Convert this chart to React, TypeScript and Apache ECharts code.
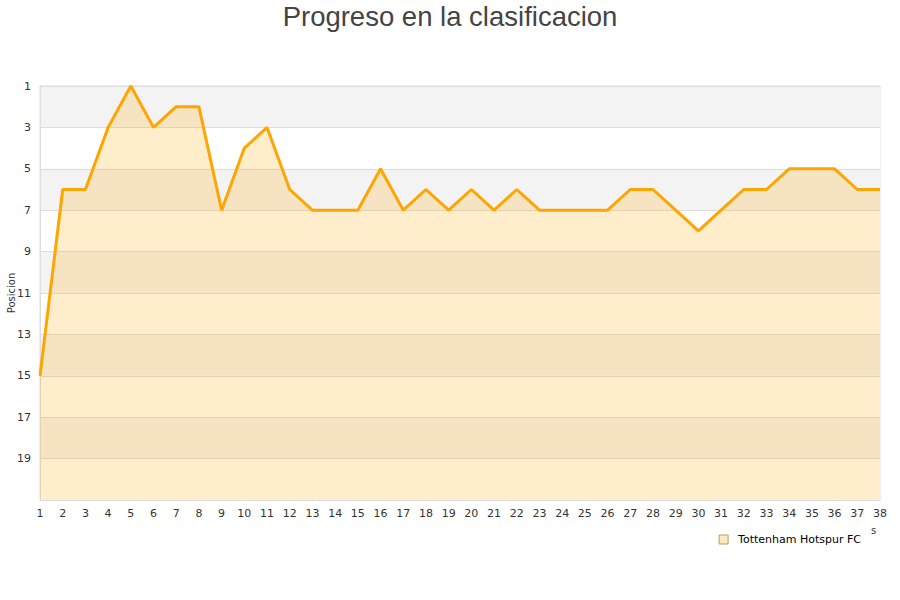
import React, { useEffect, useRef } from "react";
import * as echarts from "echarts";

const jornadas = Array.from({ length: 38 }, (_, i) => String(i + 1));
const posiciones = [15, 6, 6, 3, 1, 3, 2, 2, 7, 4, 3, 6, 7, 7, 7, 5, 7, 6, 7, 6, 7, 6, 7, 7, 7, 7, 6, 6, 7, 8, 7, 6, 6, 5, 5, 5, 6, 6];
const equipo = "Tottenham Hotspur FC";
const titulo = "Progreso en la clasificacion";

export default function App() {
  const ref = useRef<HTMLDivElement>(null);
  useEffect(() => {
    const chart = echarts.init(ref.current!, null, { renderer: "svg" });
    chart.setOption({
      animation: false,
      title: {
        text: titulo,
        left: "center",
        top: -3,
        textStyle: { fontFamily: "Liberation Sans", fontSize: 27.5, fontWeight: "normal", color: "#444" },
      },
      grid: {
        left: 40, right: 20, top: 86, bottom: 100,
        outerBoundsMode: "none",
        containLabel: false,
        show: true, borderColor: "#ddd", borderWidth: 1, backgroundColor: "transparent",
      },
      legend: {
        data: [{ name: equipo, icon: "rect" }],
        right: 34,
        top: 529,
        itemWidth: 9,
        itemHeight: 9,
        itemGap: 8,
        itemStyle: { color: "#fde9c2", borderColor: "#b89a6a", borderWidth: 1 },
        textStyle: { fontFamily: "DejaVu Sans", fontSize: 11, color: "#000", padding: [0, 0, 0, 5] },
      },
      xAxis: {
        type: "category",
        data: jornadas,
        boundaryGap: false,
        axisLine: { lineStyle: { color: "#ddd" } },
        axisTick: { show: false },
        axisLabel: { color: "#333", fontFamily: "DejaVu Sans", fontSize: 11, margin: 8, interval: 0 },
        splitLine: { show: false },
      },
      yAxis: {
        type: "value",
        name: "Posicion",
        nameLocation: "middle",
        nameGap: 24,
        nameMoveOverlap: false,
        nameTextStyle: { fontFamily: "DejaVu Sans", fontSize: 10, color: "#333" },
        inverse: true,
        min: 1,
        max: 21,
        interval: 2,
        axisLine: { show: true, lineStyle: { color: "#ddd" } },
        axisTick: { show: false },
        axisLabel: {
          color: "#333",
          fontFamily: "DejaVu Sans",
          fontSize: 11,
          margin: 9,
          formatter: (v: number) => (v === 21 ? "" : String(v)),
        },
        splitLine: { show: true, lineStyle: { color: "#ddd" } },
        splitArea: { show: true, areaStyle: { color: ["#f3f3f3", "#ffffff"] } },
      },
      series: [
        {
          name: equipo,
          type: "line",
          data: posiciones,
          symbol: "none",
          lineStyle: { color: "#ffa500", width: 3 },
          itemStyle: { color: "#fde9c2", borderColor: "#b89a6a", borderWidth: 1 },
          areaStyle: { origin: "end", color: "#ffa500", opacity: 0.2 },
        },
      ],
      graphic: [
        { type: "text", left: 871, top: 525, style: { text: "s", fontFamily: "DejaVu Sans", fontSize: 10, fill: "#333" } },
      ],
    });
    return () => chart.dispose();
  }, []);
  return <div ref={ref} style={{ position: "absolute", left: 0, top: 0, width: 900, height: 600 }} />;
}
